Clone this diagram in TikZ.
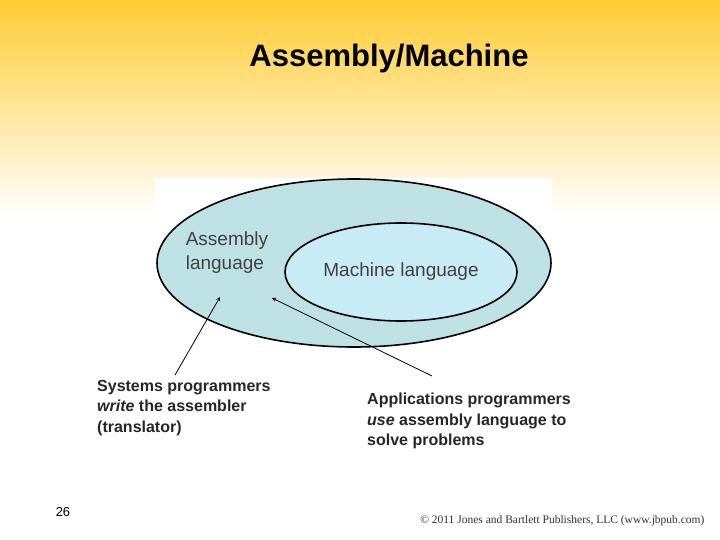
\documentclass[tikz,border=0pt]{standalone}
\usepackage{fontspec}
\setmainfont{Liberation Sans}
\newfontfamily\serifc{Liberation Serif}
\usetikzlibrary{shapes.geometric}
\definecolor{outerc}{RGB}{190,226,228}
\definecolor{innerc}{RGB}{200,236,246}
\definecolor{topc}{RGB}{255,204,50}
\begin{document}
\begin{tikzpicture}[x=1pt,y=-1pt,
  lbl/.style={align=left,anchor=north west,font=\fontsize{16}{20.5}\selectfont\bfseries\color{black!85},inner sep=0},
  ell/.style={draw=black,line width=1.6pt},
  arr/.style={-stealth,line width=0.8pt}]
\useasboundingbox (0,0) rectangle (720,540);
\fill[white] (0,0) rectangle (720,540);
\shade[top color=topc, bottom color=white] (0,0) rectangle (720,215);
\fill[white] (155,178) rectangle (552,352);
\node[ell,ellipse,fill=outerc,minimum width=394,minimum height=168,inner sep=0] (outer) at (354,263) {};
\node[ell,ellipse,fill=innerc,minimum width=232,minimum height=98,inner sep=0,
  font=\fontsize{19}{22}\selectfont\color{black!75}] (inner) at (401,272) {Machine language};
\node[align=left,font=\fontsize{19}{24}\selectfont\color{black!75},inner sep=0] (asm) at (227,253) {Assembly\\language};
\node[font=\fontsize{31}{36}\selectfont\bfseries] (title) at (389,58) {Assembly/Machine};
\node[lbl] (sys) at (97,380) {Systems programmers\\\textit{write} the assembler\\(translator)};
\node[lbl] (app) at (367,393) {Applications programmers\\\textit{use} assembly language to\\solve problems};
\coordinate (sysend) at (175,375);
\coordinate (append) at (432,376);
\coordinate (t1) at (220,297);
\coordinate (t2) at (272,298);
\draw[arr] (sysend) -- (t1);
\draw[arr] (append) -- (t2);
\node[font=\fontsize{13}{15}\selectfont] (num) at (63,512) {26};
\node[font=\serifc\fontsize{11.5}{13}\selectfont,anchor=east,color=black!80] (copy) at (708,521) {© 2011 Jones and Bartlett Publishers, LLC (www.jbpub.com)};
\end{tikzpicture}
\end{document}
